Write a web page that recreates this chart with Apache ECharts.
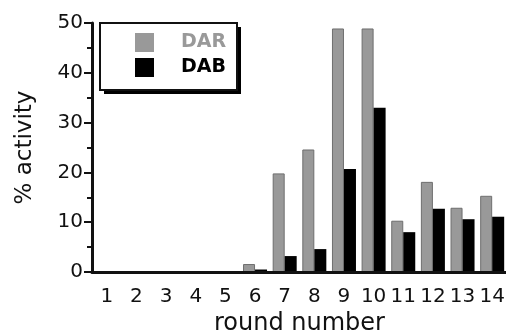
<!DOCTYPE html>
<html>
<head>
<meta charset="utf-8">
<script src="https://cdn.jsdelivr.net/npm/echarts@6/dist/echarts.min.js"></script>
<style>
html,body{margin:0;padding:0;background:#fff;}
#chart{width:506px;height:333px;}
</style>
</head>
<body>
<div id="chart"></div>
<script>
var categories = ['1','2','3','4','5','6','7','8','9','10','11','12','13','14'];
var darValues = [0, 0, 0, 0, 0, 1.6, 19.8, 24.6, 48.9, 48.9, 10.3, 18.1, 12.9, 15.3];
var dabValues = [0, 0, 0, 0, 0, 0.5, 3.2, 4.6, 20.7, 33.0, 8.0, 12.7, 10.6, 11.1];
var yTicks = { min: 0, max: 50, interval: 10 };

var FONT = '"DejaVu Sans", "Liberation Sans", Arial, sans-serif';
var chart = echarts.init(document.getElementById('chart'), null, {renderer: 'canvas'});
chart.setOption({
  backgroundColor: '#ffffff',
  animation: false,
  grid: { left: 92, right: -1, top: 23, bottom: 61, containLabel: false, outerBoundsMode: 'none' },
  graphic: [
    { type: 'rect', z: 0, shape: { x: 104, y: 27, width: 137, height: 67 }, style: { fill: '#000000' } },
    { type: 'rect', z: 1, shape: { x: 100, y: 23, width: 137, height: 67 }, style: { fill: '#ffffff', stroke: '#111111', lineWidth: 2 } }
  ],
  legend: {
    orient: 'vertical',
    left: 135,
    top: 33,
    padding: 0,
    itemGap: 6,
    itemWidth: 19,
    itemHeight: 19,
    z: 10,
    icon: 'rect',
    data: [
      { name: 'DAR', itemStyle: { color: '#999999', borderWidth: 0 }, textStyle: { color: '#999999' } },
      { name: 'DAB', itemStyle: { color: '#000000', borderWidth: 0 }, textStyle: { color: '#000000' } }
    ],
    textStyle: { fontFamily: FONT, fontSize: 19, fontWeight: 'bold', padding: [0, 0, 0, 22], lineHeight: 19 }
  },
  xAxis: {
    type: 'category',
    data: categories,
    boundaryGap: true,
    z: 5,
    name: 'round number',
    nameLocation: 'middle',
    nameGap: 40,
    nameTextStyle: { fontFamily: FONT, fontSize: 24, color: '#111111' },
    axisLine: { show: true, lineStyle: { color: '#111111', width: 3 } },
    axisTick: { show: false },
    axisLabel: { interval: 0, fontFamily: FONT, fontSize: 20, color: '#111111', margin: 15 },
    splitLine: { show: false }
  },
  yAxis: {
    type: 'value',
    min: yTicks.min,
    max: yTicks.max,
    interval: yTicks.interval,
    z: 5,
    name: '% activity',
    nameLocation: 'middle',
    nameGap: 55,
    nameTextStyle: { fontFamily: FONT, fontSize: 23, color: '#111111' },
    axisLine: { show: true, lineStyle: { color: '#111111', width: 3 } },
    axisTick: { show: true, inside: false, length: 8, lineStyle: { color: '#111111', width: 2 } },
    minorTick: { show: true, splitNumber: 2, length: 5, lineStyle: { color: '#111111', width: 2 } },
    axisLabel: { fontFamily: FONT, fontSize: 20, color: '#111111', margin: 9 },
    splitLine: { show: false },
    minorSplitLine: { show: false }
  },
  series: [
    {
      name: 'DAR',
      type: 'bar',
      data: darValues,
      barGap: '0%',
      barCategoryGap: '19%',
      itemStyle: { color: '#999999', borderColor: '#6e6e6e', borderWidth: 1 }
    },
    {
      name: 'DAB',
      type: 'bar',
      data: dabValues,
      barGap: '0%',
      barCategoryGap: '19%',
      itemStyle: { color: '#000000' }
    }
  ]
});
</script>
</body>
</html>
